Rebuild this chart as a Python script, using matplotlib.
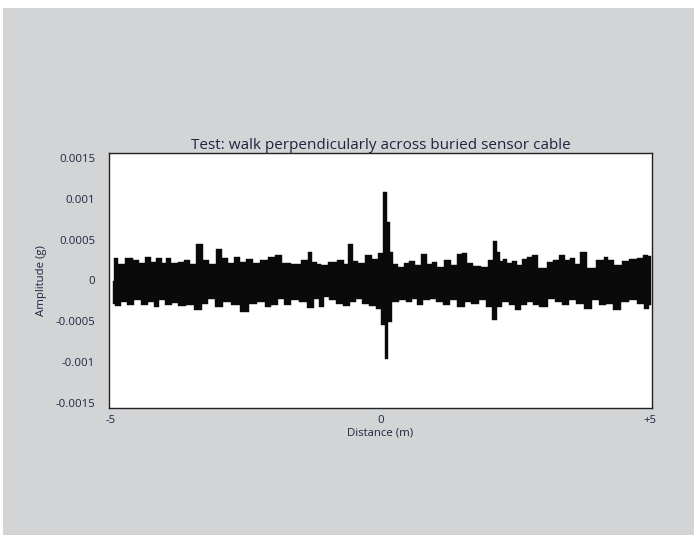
import matplotlib
matplotlib.use("Agg")
import matplotlib.pyplot as plt
from matplotlib.patches import Rectangle

plt.rcParams['font.family'] = ['Open Sans', 'DejaVu Sans']
plt.rcParams['axes.unicode_minus'] = False

# Upper envelope of the vibration trace (distance in m, amplitude in g)
upper_dist = [-4.93, -4.81, -4.64, -4.52, -4.43, -4.30, -4.21, -4.10, -4.01, -3.94,
              -3.82, -3.70, -3.57, -3.48, -3.35, -3.24, -3.11, -2.99, -2.88, -2.77,
              -2.67, -2.54, -2.43, -2.30, -2.15, -2.03, -1.89, -1.75, -1.56, -1.38,
              -1.30, -1.22, -1.14, -1.06, -0.88, -0.73, -0.64, -0.56, -0.47, -0.35,
              -0.22, -0.10, 0.01, 0.10, 0.14, 0.20, 0.27, 0.39, 0.48, 0.57,
              0.69, 0.81, 0.91, 0.99, 1.12, 1.25, 1.37, 1.46, 1.55, 1.64,
              1.78, 1.94, 2.06, 2.12, 2.18, 2.24, 2.31, 2.39, 2.47, 2.58,
              2.67, 2.76, 2.84, 3.01, 3.15, 3.24, 3.36, 3.46, 3.56, 3.66,
              3.74, 3.91, 4.09, 4.18, 4.26, 4.40, 4.54, 4.68, 4.81, 4.92, 5.01]
upper_amp = [2.72e-4, 1.98e-4, 2.79e-4, 2.51e-4, 2.11e-4, 2.91e-4, 2.30e-4, 2.79e-4, 2.11e-4, 2.79e-4,
             2.11e-4, 2.23e-4, 2.51e-4, 1.98e-4, 4.43e-4, 2.51e-4, 1.98e-4, 3.86e-4, 2.72e-4, 2.11e-4,
             2.91e-4, 2.30e-4, 2.63e-4, 2.11e-4, 2.51e-4, 2.91e-4, 3.12e-4, 2.11e-4, 1.98e-4, 2.51e-4,
             3.53e-4, 2.30e-4, 1.98e-4, 1.90e-4, 2.23e-4, 2.51e-4, 1.98e-4, 4.43e-4, 2.39e-4, 2.11e-4,
             3.12e-4, 2.63e-4, 3.33e-4, 10.80e-4, 7.20e-4, 3.53e-4, 1.98e-4, 1.69e-4, 2.11e-4, 2.39e-4,
             1.90e-4, 3.21e-4, 1.98e-4, 2.30e-4, 1.69e-4, 2.51e-4, 1.90e-4, 3.21e-4, 3.33e-4, 2.11e-4,
             1.81e-4, 1.69e-4, 2.51e-4, 4.83e-4, 3.53e-4, 2.39e-4, 2.63e-4, 2.11e-4, 2.39e-4, 1.90e-4,
             2.63e-4, 2.91e-4, 3.12e-4, 1.57e-4, 2.30e-4, 2.51e-4, 3.12e-4, 2.51e-4, 2.79e-4, 1.98e-4,
             3.45e-4, 1.57e-4, 2.51e-4, 2.91e-4, 2.51e-4, 1.90e-4, 2.39e-4, 2.63e-4, 2.79e-4, 3.12e-4, 3.04e-4]

# Lower envelope of the vibration trace
lower_dist = [-4.95, -4.87, -4.74, -4.64, -4.50, -4.38, -4.24, -4.16, -4.06, -3.93,
              -3.81, -3.69, -3.53, -3.38, -3.25, -3.13, -2.99, -2.85, -2.70, -2.52,
              -2.37, -2.21, -2.08, -1.96, -1.83, -1.73, -1.59, -1.44, -1.30, -1.18,
              -1.10, -1.01, -0.88, -0.76, -0.62, -0.51, -0.41, -0.28, -0.13, -0.04,
              0.04, 0.11, 0.17, 0.26, 0.41, 0.55, 0.63, 0.72, 0.86, 0.98,
              1.09, 1.22, 1.34, 1.50, 1.62, 1.75, 1.90, 2.02, 2.12, 2.20,
              2.31, 2.44, 2.55, 2.64, 2.77, 2.87, 3.02, 3.17, 3.30, 3.43,
              3.55, 3.70, 3.85, 3.97, 4.11, 4.25, 4.38, 4.52, 4.68, 4.81, 4.94, 5.02]
lower_amp = [-2.84e-4, -3.12e-4, -2.63e-4, -3.04e-4, -2.42e-4, -2.96e-4, -2.63e-4, -3.24e-4, -2.42e-4, -3.04e-4,
             -2.72e-4, -3.12e-4, -2.96e-4, -3.65e-4, -2.84e-4, -2.23e-4, -3.24e-4, -2.63e-4, -3.04e-4, -3.86e-4,
             -2.84e-4, -2.63e-4, -3.24e-4, -3.04e-4, -2.23e-4, -3.04e-4, -2.42e-4, -2.63e-4, -3.37e-4, -2.23e-4,
             -3.24e-4, -2.02e-4, -2.42e-4, -2.84e-4, -3.12e-4, -2.63e-4, -2.23e-4, -2.84e-4, -3.12e-4, -3.45e-4,
             -5.48e-4, -9.57e-4, -5.08e-4, -2.63e-4, -2.42e-4, -2.63e-4, -2.23e-4, -3.04e-4, -2.42e-4, -2.23e-4,
             -2.63e-4, -3.04e-4, -2.42e-4, -3.24e-4, -2.63e-4, -2.84e-4, -2.42e-4, -3.24e-4, -4.87e-4, -3.24e-4,
             -2.63e-4, -3.04e-4, -3.65e-4, -3.04e-4, -2.63e-4, -2.96e-4, -3.24e-4, -2.23e-4, -2.63e-4, -2.96e-4,
             -2.42e-4, -2.84e-4, -3.45e-4, -2.42e-4, -3.04e-4, -2.84e-4, -3.65e-4, -2.63e-4, -2.42e-4, -2.84e-4, -3.45e-4, -3.04e-4]

x_ticks = [-5, 0, 5]
x_tick_labels = ['-5', '0', '+5']
y_ticks = [0.0015, 0.001, 0.0005, 0, -0.0005, -0.001, -0.0015]
y_tick_labels = ['0.0015', '0.001', '0.0005', '0', '-0.0005', '-0.001', '-0.0015']

bg = '#d3d4d6'
text_col = '#1f2540'

fig = plt.figure(figsize=(6.94, 5.38), dpi=100, facecolor='white')
fig.patches.append(Rectangle((3 / 694, 3 / 538), 691 / 694, 527 / 538,
                             transform=fig.transFigure, facecolor=bg,
                             edgecolor='none', zorder=-10))

ax = fig.add_axes([109 / 694, 1 - 408 / 538, 543 / 694, 255 / 538])
ax.set_facecolor('white')

ax.fill_between(upper_dist, 0, upper_amp, step='mid', color='#0a0a0a', linewidth=0.3,
                edgecolor='#0a0a0a')
ax.fill_between(lower_dist, lower_amp, 0, step='mid', color='#0a0a0a', linewidth=0.3,
                edgecolor='#0a0a0a')

ax.set_xlim(-5.03, 5.03)
ax.set_ylim(-0.00156, 0.00156)
ax.set_xticks(x_ticks)
ax.set_xticklabels(x_tick_labels)
ax.set_yticks(y_ticks)
ax.set_yticklabels(y_tick_labels)
ax.tick_params(axis='both', length=0, labelsize=8.2, colors=text_col)
ax.tick_params(axis='y', pad=10)
ax.tick_params(axis='x', pad=5)

for s in ax.spines.values():
    s.set_color('#222222')
    s.set_linewidth(1.0)

ax.set_title('Test: walk perpendicularly across buried sensor cable',
             fontsize=11, color=text_col, pad=3)
ax.set_xlabel('Distance (m)', fontsize=8.2, color=text_col, labelpad=1)
ax.set_ylabel('Amplitude (g)', fontsize=8.2, color=text_col, labelpad=6)

fig.savefig('out.png', dpi=100, facecolor=fig.get_facecolor())
